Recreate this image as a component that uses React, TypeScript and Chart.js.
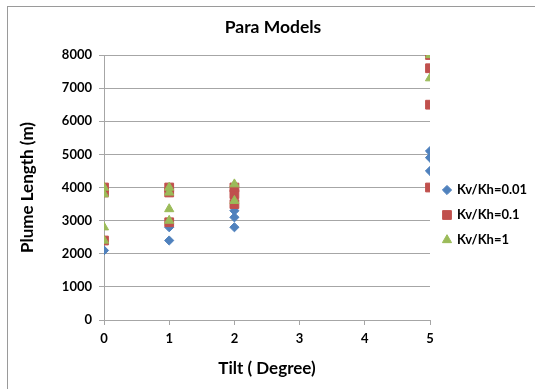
import React, { useEffect, useRef } from "react";
import { Chart, registerables } from "chart.js";
import { drawPoint } from "chart.js/helpers";

Chart.register(...registerables);

// Tilt angles (degrees) and plume lengths (m) per Kv/Kh ratio
const seriesLabels = ["Kv/Kh=0.01", "Kv/Kh=0.1", "Kv/Kh=1"];

const tiltLow = [0, 1, 1, 2, 2, 2, 5, 5, 5];
const lengthLow = [2100, 2400, 2800, 2800, 3100, 3300, 4500, 4900, 5100];

const tiltMid = [0, 0, 0, 1, 1, 1, 2, 2, 2, 5, 5, 5, 5];
const lengthMid = [2400, 3850, 4000, 2950, 3850, 4000, 3500, 3800, 4000, 4000, 6500, 7600, 8000];

const tiltHigh = [0, 0, 0, 0, 1, 1, 1, 1, 2, 2, 5, 5];
const lengthHigh = [2400, 2800, 3800, 4000, 3000, 3350, 3850, 4000, 3600, 4100, 7300, 8000];

const yTicks = [0, 1000, 2000, 3000, 4000, 5000, 6000, 7000, 8000];
const xTicks = [0, 1, 2, 3, 4, 5];

const FONT = "Lato, 'Open Sans', sans-serif";
const GRID = "#a6a6a6";

const toPoints = (xs: number[], ys: number[]) => xs.map((x, i) => ({ x, y: ys[i] }));

const frameAndLegend = {
  id: "frameAndLegend",
  afterDraw(chart: any) {
    const { ctx, chartArea } = chart;
    ctx.save();
    ctx.strokeStyle = "#9a9a9a";
    ctx.lineWidth = 1;
    ctx.strokeRect(7.5, 6.5, chart.width, chart.height);

    const lx = chartArea.right + 17;
    chart.data.datasets.forEach((ds: any, i: number) => {
      const y = chartArea.top + 135 + i * 25;
      ctx.fillStyle = ds.backgroundColor;
      ctx.strokeStyle = ds.borderColor;
      ctx.lineWidth = 1;
      drawPoint(ctx, { pointStyle: ds.pointStyle, radius: ds.pointRadius, borderWidth: 1 }, lx, y);
      ctx.fillStyle = "#000";
      ctx.font = `bold 13px ${FONT}`;
      ctx.textBaseline = "middle";
      ctx.textAlign = "left";
      ctx.fillText(ds.label, lx + 10, y);
    });
    ctx.restore();
  },
};

export default function App() {
  const ref = useRef<HTMLCanvasElement>(null);

  useEffect(() => {
    document.body.style.margin = "0";
    const chart = new Chart(ref.current!, {
      type: "scatter",
      data: {
        datasets: [
          {
            label: seriesLabels[0],
            data: toPoints(tiltLow, lengthLow),
            pointStyle: "rectRot",
            pointRadius: 4.6,
            backgroundColor: "#4f81bd",
            borderColor: "#4f81bd",
            order: 3,
          },
          {
            label: seriesLabels[1],
            data: toPoints(tiltMid, lengthMid),
            pointStyle: "rect",
            pointRadius: 6.2,
            backgroundColor: "#c0504d",
            borderColor: "#c0504d",
            order: 2,
          },
          {
            label: seriesLabels[2],
            data: toPoints(tiltHigh, lengthHigh),
            pointStyle: "triangle",
            pointRadius: 5.3,
            backgroundColor: "#9bbb59",
            borderColor: "#9bbb59",
            order: 1,
          },
        ],
      },
      options: {
        responsive: false,
        animation: false,
        layout: { padding: { left: 11, top: 0, right: 0, bottom: 0 } },
        plugins: {
          legend: { display: false },
          tooltip: { enabled: false },
          title: {
            display: true,
            text: "Para Models",
            color: "#000",
            font: { family: FONT, size: 17.5, weight: "bold", lineHeight: 1.2 },
            padding: { top: 16.5, bottom: 17.5 },
          },
        },
        scales: {
          x: {
            type: "linear",
            min: 0,
            max: 5,
            afterBuildTicks: (s: any) => {
              s.ticks = xTicks.map((v) => ({ value: v }));
            },
            afterFit: (s: any) => {
              s.height = 69;
            },
            grid: { drawOnChartArea: false, drawTicks: true, tickLength: 5, color: GRID },
            border: { display: true, color: GRID },
            ticks: {
              color: "#000",
              padding: 6,
              font: { family: FONT, size: 13, weight: "bold" },
              callback: (v: any) => String(v),
            },
            title: {
              display: true,
              text: "Tilt ( Degree)",
              color: "#000",
              font: { family: FONT, size: 17, weight: "bold", lineHeight: 1.2 },
              padding: { top: 0, bottom: 9.8 },
            },
          },
          y: {
            type: "linear",
            min: 0,
            max: 8000,
            afterBuildTicks: (s: any) => {
              s.ticks = yTicks.map((v) => ({ value: v }));
            },
            afterFit: (s: any) => {
              s.width = 93;
            },
            grid: { color: GRID, tickLength: 5 },
            border: { display: true, color: GRID },
            ticks: {
              color: "#000",
              padding: 7,
              font: { family: FONT, size: 13, weight: "bold" },
              callback: (v: any) => String(v),
            },
            title: {
              display: true,
              text: "Plume Length (m)",
              color: "#000",
              font: { family: FONT, size: 17, weight: "bold", lineHeight: 1.2 },
              padding: { top: 6, bottom: 0 },
            },
          },
          yRight: {
            type: "linear",
            position: "right",
            display: true,
            afterFit: (s: any) => {
              s.width = 105;
            },
            grid: { display: false },
            border: { display: false },
            ticks: { display: false },
          },
        },
      },
      plugins: [frameAndLegend],
    });
    return () => chart.destroy();
  }, []);

  return (
    <div style={{ width: 535, height: 389 }}>
      <canvas ref={ref} width={535} height={389} />
    </div>
  );
}
